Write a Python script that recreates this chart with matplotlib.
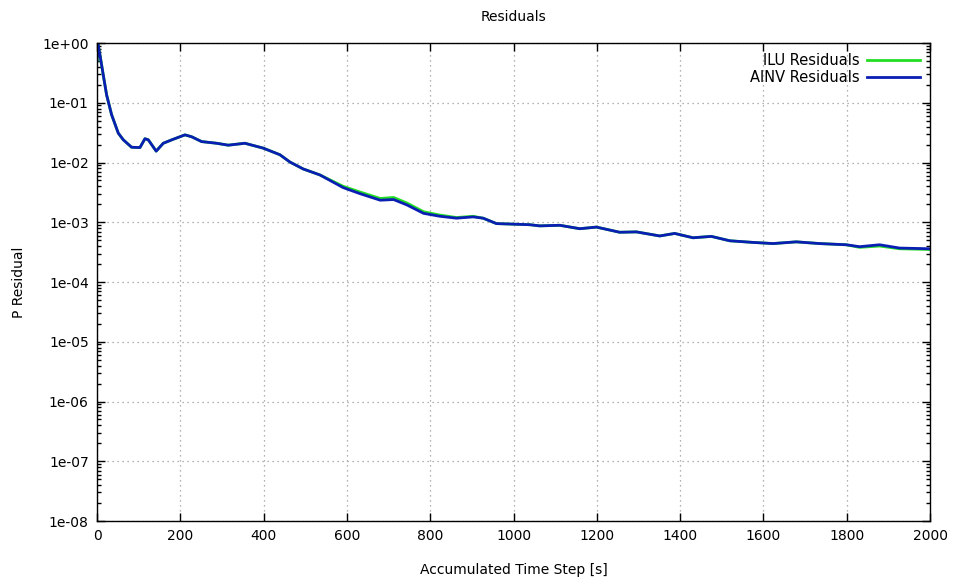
import matplotlib
matplotlib.use('Agg')
import matplotlib.pyplot as plt
from matplotlib.ticker import FuncFormatter, LogLocator, NullFormatter

# accumulated time step [s]
steps = [0, 2, 7, 15, 23, 35, 51, 63, 83, 103, 115, 123, 142, 159, 183, 211, 227,
         251, 287, 315, 355, 399, 439, 463, 495, 535, 591, 632, 680, 712, 744, 784,
         823, 863, 903, 927, 959, 999, 1039, 1063, 1111, 1159, 1199, 1255, 1295,
         1351, 1387, 1431, 1475, 1519, 1575, 1623, 1679, 1735, 1799, 1831, 1879,
         1927, 2000]

ainv_res = [0.50, 1.0, 0.63, 0.29, 0.135, 0.063, 0.031, 0.024, 0.018, 0.0178, 0.025,
            0.024, 0.0155, 0.021, 0.0245, 0.029, 0.027, 0.0224, 0.021, 0.0195, 0.021,
            0.0174, 0.0135, 0.0102, 0.0078, 0.0062, 0.0038, 0.0030, 0.00234, 0.0024,
            0.00195, 0.00141, 0.00126, 0.00117, 0.00123, 0.00117, 0.00095, 0.00093,
            0.00091, 0.00087, 0.00089, 0.00078, 0.00083, 0.00068, 0.00069, 0.00059,
            0.00065, 0.00055, 0.00058, 0.00049, 0.00046, 0.00044, 0.00047, 0.00044,
            0.00042, 0.00039, 0.00042, 0.00037, 0.00036]

ilu_res = [0.50, 1.0, 0.63, 0.29, 0.135, 0.063, 0.031, 0.024, 0.018, 0.0178, 0.025,
           0.024, 0.0155, 0.021, 0.0245, 0.029, 0.027, 0.0224, 0.021, 0.0195, 0.021,
           0.0174, 0.0135, 0.0102, 0.0078, 0.0062, 0.0040, 0.0032, 0.0025, 0.0026,
           0.0021, 0.00150, 0.00132, 0.00120, 0.00126, 0.00117, 0.00095, 0.00093,
           0.00091, 0.00087, 0.00089, 0.00078, 0.00083, 0.00068, 0.00069, 0.00059,
           0.00065, 0.00055, 0.00058, 0.00049, 0.00046, 0.00044, 0.00047, 0.00044,
           0.00042, 0.00038, 0.00040, 0.00036, 0.00035]

x_ticks = [0, 200, 400, 600, 800, 1000, 1200, 1400, 1600, 1800, 2000]
y_ticks = [1e-8, 1e-7, 1e-6, 1e-5, 1e-4, 1e-3, 1e-2, 1e-1, 1e0]

fig = plt.figure(figsize=(9.57, 5.82), dpi=100)
ax = fig.add_axes([0.1014, 0.1048, 0.8704, 0.8213])

ax.plot(steps, ilu_res, color='#22dd22', lw=2.0, label='ILU Residuals')
ax.plot(steps, ainv_res, color='#0a1eb4', lw=2.0, label='AINV Residuals')

ax.set_yscale('log')
ax.set_xlim(0, 2000)
ax.set_ylim(1e-8, 1e0)
ax.set_xticks(x_ticks)
ax.set_yticks(y_ticks)
ax.yaxis.set_minor_locator(LogLocator(base=10, subs=range(2, 10), numticks=20))
ax.yaxis.set_minor_formatter(NullFormatter())
ax.yaxis.set_major_formatter(FuncFormatter(lambda v, p: f'{v:.0e}'))

ax.tick_params(which='both', direction='in', top=True, right=True,
               labelsize=10, color='black')
ax.tick_params(which='major', length=6, width=1, pad=6)
ax.tick_params(which='minor', length=3, width=1)
for s in ax.spines.values():
    s.set_linewidth(1)

ax.grid(True, which='major', color='#999999', linestyle=(0, (1, 3)), lw=0.9)

ax.set_title('Residuals', fontsize=10, pad=16)
ax.set_xlabel('Accumulated Time Step [s]', fontsize=10, labelpad=14)
ax.set_ylabel('P Residual', fontsize=10, labelpad=12)

ax.legend(loc='upper right', frameon=False, markerfirst=False, fontsize=10.5,
          handlelength=3.6, borderaxespad=0.3, labelspacing=0.1, handletextpad=0.5)

fig.savefig('out.png', dpi=100)
